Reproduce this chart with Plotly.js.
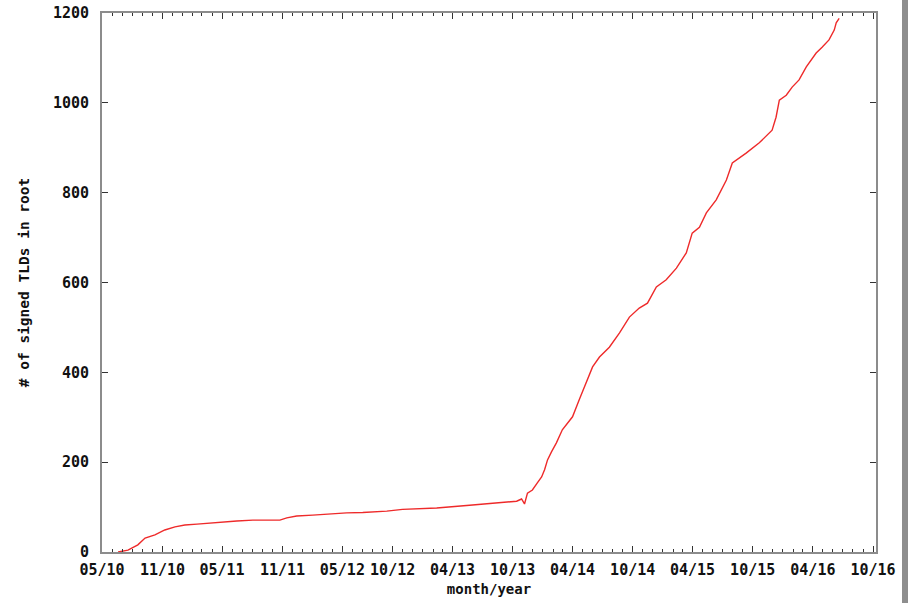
<!DOCTYPE html>
<html>
<head>
<meta charset="utf-8">
<script src="https://cdn.plot.ly/plotly-3.0.1.min.js"></script>
<style>
  html, body { margin: 0; padding: 0; background: #ffffff; }
  #wrap { position: relative; width: 908px; height: 603px; overflow: hidden; }
  #chart { width: 908px; height: 603px; }
  #edge { position: absolute; z-index: 20; left: 902px; top: 0; width: 6px; height: 603px; background: #8e8e8e; }
</style>
</head>
<body>
<div id="wrap">
  <div id="chart"></div>
  <div id="edge"></div>
</div>
<script>
// ---- data ----
const dates = [
  "2010-06-19","2010-07-19","2010-08-18","2010-09-09","2010-10-09","2010-11-08",
  "2010-12-09","2011-01-08","2011-02-14","2011-04-03","2011-05-04","2011-06-15",
  "2011-08-03","2011-10-24","2011-11-14","2011-12-14","2012-02-01","2012-03-24",
  "2012-05-14","2012-07-02","2012-08-01","2012-09-13","2012-10-31","2013-02-12",
  "2013-05-23","2013-08-31","2013-10-13","2013-10-28","2013-11-06","2013-11-15",
  "2013-11-30","2013-12-15","2013-12-28","2014-01-06","2014-01-15","2014-01-27",
  "2014-02-11","2014-03-01","2014-04-01","2014-04-22","2014-06-01","2014-06-22",
  "2014-07-22","2014-08-22","2014-09-21","2014-10-21","2014-11-15","2014-12-12",
  "2015-01-11","2015-02-11","2015-03-13","2015-03-31","2015-04-22","2015-05-13",
  "2015-06-12","2015-07-13","2015-07-31","2015-09-11","2015-10-21","2015-11-29",
  "2015-12-11","2015-12-21","2016-01-11","2016-01-29","2016-02-19","2016-03-12",
  "2016-04-11","2016-04-29","2016-05-20","2016-06-05","2016-06-11","2016-06-20"
];
const signedTLDs = [
  0, 4, 16, 31, 38, 49,
  56, 60, 62, 65, 67, 69,
  71, 71, 76, 80, 82, 85,
  87, 88, 89, 91, 95, 98,
  104, 110, 113, 118, 107, 131,
  138, 154, 167, 183, 205, 223,
  243, 272, 301, 340, 412, 434,
  456, 488, 523, 543, 554, 590,
  606, 632, 666, 710, 723, 755,
  784, 828, 866, 888, 911, 939,
  968, 1006, 1017, 1035, 1051, 1080,
  1111, 1124, 1140, 1162, 1178, 1188
];
const tickDates = [
  "2010-05-01","2010-11-01","2011-05-01","2011-11-01","2012-05-01","2012-10-01",
  "2013-04-01","2013-10-01","2014-04-01","2014-10-01","2015-04-01","2015-10-01",
  "2016-04-01","2016-10-01"
];
const tickLabels = [
  "05/10","11/10","05/11","11/11","05/12","10/12",
  "04/13","10/13","04/14","10/14","04/15","10/15",
  "04/16","10/16"
];
const yTickVals = [0, 200, 400, 600, 800, 1000, 1200];
const xTitle = "month/year";
const yTitle = "# of signed TLDs in root";

// ---- chart ----
const FONT = "DejaVu Sans Mono, Liberation Mono, monospace";
const AXIS_GRAY = "#8c8c8c";

const trace = {
  x: dates,
  y: signedTLDs,
  type: "scatter",
  mode: "lines",
  line: { color: "#ee2a2a", width: 1.4 },
  hoverinfo: "x+y"
};

const layout = {
  width: 908,
  height: 603,
  margin: { l: 102, r: 32, t: 13, b: 51 },
  paper_bgcolor: "#ffffff",
  plot_bgcolor: "#ffffff",
  showlegend: false,
  font: { family: FONT, size: 15, color: "#111111" },
  xaxis: {
    type: "date",
    range: ["2010-05-01", "2016-10-10"],
    tickmode: "array",
    tickvals: tickDates,
    ticktext: tickLabels,
    ticks: "inside",
    ticklen: 6,
    tickwidth: 1,
    tickcolor: "#333333",
    mirror: "ticks",
    showline: true,
    linecolor: AXIS_GRAY,
    linewidth: 2,
    showgrid: false,
    zeroline: false,
    ticklabelstandoff: 3,
    tickfont: { family: FONT, size: 15, color: "#111111", weight: "bold" },
    minor: {
      ticks: "inside",
      ticklen: 3,
      tickwidth: 1,
      tickcolor: "#333333",
      tick0: "2010-05-01",
      dtick: "M1",
      showgrid: false
    },
    title: {
      text: xTitle,
      font: { family: FONT, size: 14, color: "#111111", weight: "bold" },
      standoff: 6
    }
  },
  yaxis: {
    range: [0, 1200],
    tickmode: "array",
    tickvals: yTickVals,
    ticktext: yTickVals.map(String),
    ticks: "inside",
    ticklen: 6,
    tickwidth: 1,
    tickcolor: "#333333",
    mirror: "ticks",
    showline: true,
    linecolor: AXIS_GRAY,
    linewidth: 2,
    showgrid: false,
    zeroline: false,
    ticklabelstandoff: 8,
    tickfont: { family: FONT, size: 15, color: "#111111", weight: "bold" },
    title: {
      text: yTitle,
      font: { family: FONT, size: 14.5, color: "#111111", weight: "bold" },
      standoff: 20
    }
  },
  shapes: [
    {
      type: "rect", xref: "paper", yref: "paper",
      x0: 1.0336, x1: 1.05, y0: -0.1, y1: 1.03,
      line: { width: 0 }, fillcolor: "#8e8e8e", layer: "above"
    }
  ]
};

Plotly.newPlot("chart", [trace], layout, { displayModeBar: false, staticPlot: true });
</script>
</body>
</html>
